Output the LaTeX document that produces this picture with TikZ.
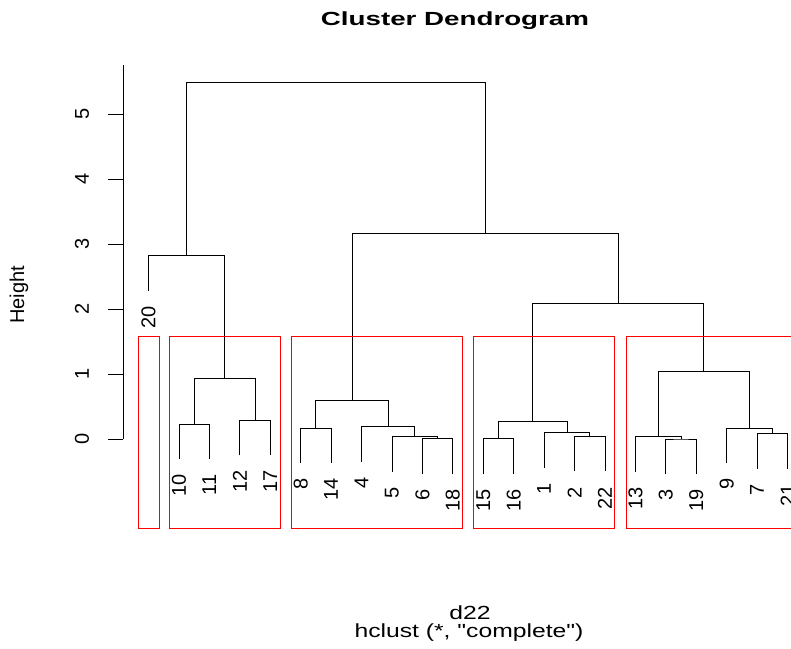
\documentclass[tikz,border=0pt]{standalone}
\usepackage{fontspec}
\setmainfont{Liberation Sans}[Ligatures=TeXOff]
\usetikzlibrary{calc}
% join two clusters at a given height
\newcommand{\joinat}[4]{%
  \path let \p1 = ($(#2)!0.5!(#3)$) in coordinate (#1) at (\x1, #4);
  \draw (#2) |- (#1) -| (#3);}
\begin{document}
\begin{tikzpicture}[x=1pt, y=65pt, line width=0.8pt,
  leaf/.style={rotate=90, anchor=east, inner sep=0pt, font=\fontsize{20}{20}\selectfont},
  redbox/.style={red, line width=0.9pt}]
	\clip (0,-3.2308) rectangle (791,6.7538);
	\draw (123,0) -- (123,5.75);
	\foreach \k in {0,...,5} {
		\draw (108,\k) -- (123,\k);
		\node [rotate=90, inner sep=0pt, font=\fontsize{20}{20}\selectfont] (tick\k) at (82,\k) {\k};
	}
	\node [rotate=90, font=\fontsize{20}{20}\selectfont] (ylab) at (19,2.215) {Height};
	\node [font=\fontsize{19}{19}\selectfont\bfseries, xscale=1.46] (title) at (455,6.44) {Cluster Dendrogram};
	\node [font=\fontsize{19}{19}\selectfont, xscale=1.3] (dist) at (470,-2.67) {d22};
	\node [font=\fontsize{19}{19}\selectfont, xscale=1.3] (meth) at (469,-2.975) {hclust (*, "complete")};
	% leaves: label / position / height of the parent
	\foreach \lab/\i/\h in {20/0/2.82, 10/1/0.23, 11/2/0.23, 12/3/0.29, 17/4/0.29, 8/5/0.17, 14/6/0.17, 4/7/0.19, 5/8/0.035, 6/9/0.005, 18/10/0.005, 15/11/0.005, 16/12/0.005, 1/13/0.10, 2/14/0.04, 22/15/0.04, 13/16/0.035, 3/17/0, 19/18/0, 9/19/0.17, 7/20/0.08, 21/21/0.08} {
		\coordinate (l\lab) at ({148.5+30.43*\i}, \h-0.54);
		\node [leaf] (t\lab) at ([yshift=-15pt]l\lab) {\lab};
	}
	\joinat{m1011}{l10}{l11}{0.23}
	\joinat{m1217}{l12}{l17}{0.29}
	\joinat{mB}{m1011}{m1217}{0.93}
	\joinat{mA}{l20}{mB}{2.82}
	\joinat{m814}{l8}{l14}{0.17}
	\joinat{m618}{l6}{l18}{0.005}
	\joinat{m5}{l5}{m618}{0.035}
	\joinat{m4}{l4}{m5}{0.19}
	\joinat{mC}{m814}{m4}{0.59}
	\joinat{m1516}{l15}{l16}{0.005}
	\joinat{m222}{l2}{l22}{0.04}
	\joinat{m1}{l1}{m222}{0.10}
	\joinat{mF}{m1516}{m1}{0.27}
	\joinat{m319}{l3}{l19}{0}
	\joinat{m13}{l13}{m319}{0.035}
	\joinat{m721}{l7}{l21}{0.08}
	\joinat{m9}{l9}{m721}{0.17}
	\joinat{mG}{m13}{m9}{1.04}
	\joinat{mE}{mF}{mG}{2.08}
	\joinat{mD}{mC}{mE}{3.16}
	\joinat{top}{mA}{mD}{5.48}
	% cut into five groups
	\foreach \a/\b in {138.3/159.3, 169/280, 291/462.3, 473.3/614.7, 626/797.5}
		\draw [redbox] (\a,1.574) rectangle (\b,-1.369);
\end{tikzpicture}
\end{document}
